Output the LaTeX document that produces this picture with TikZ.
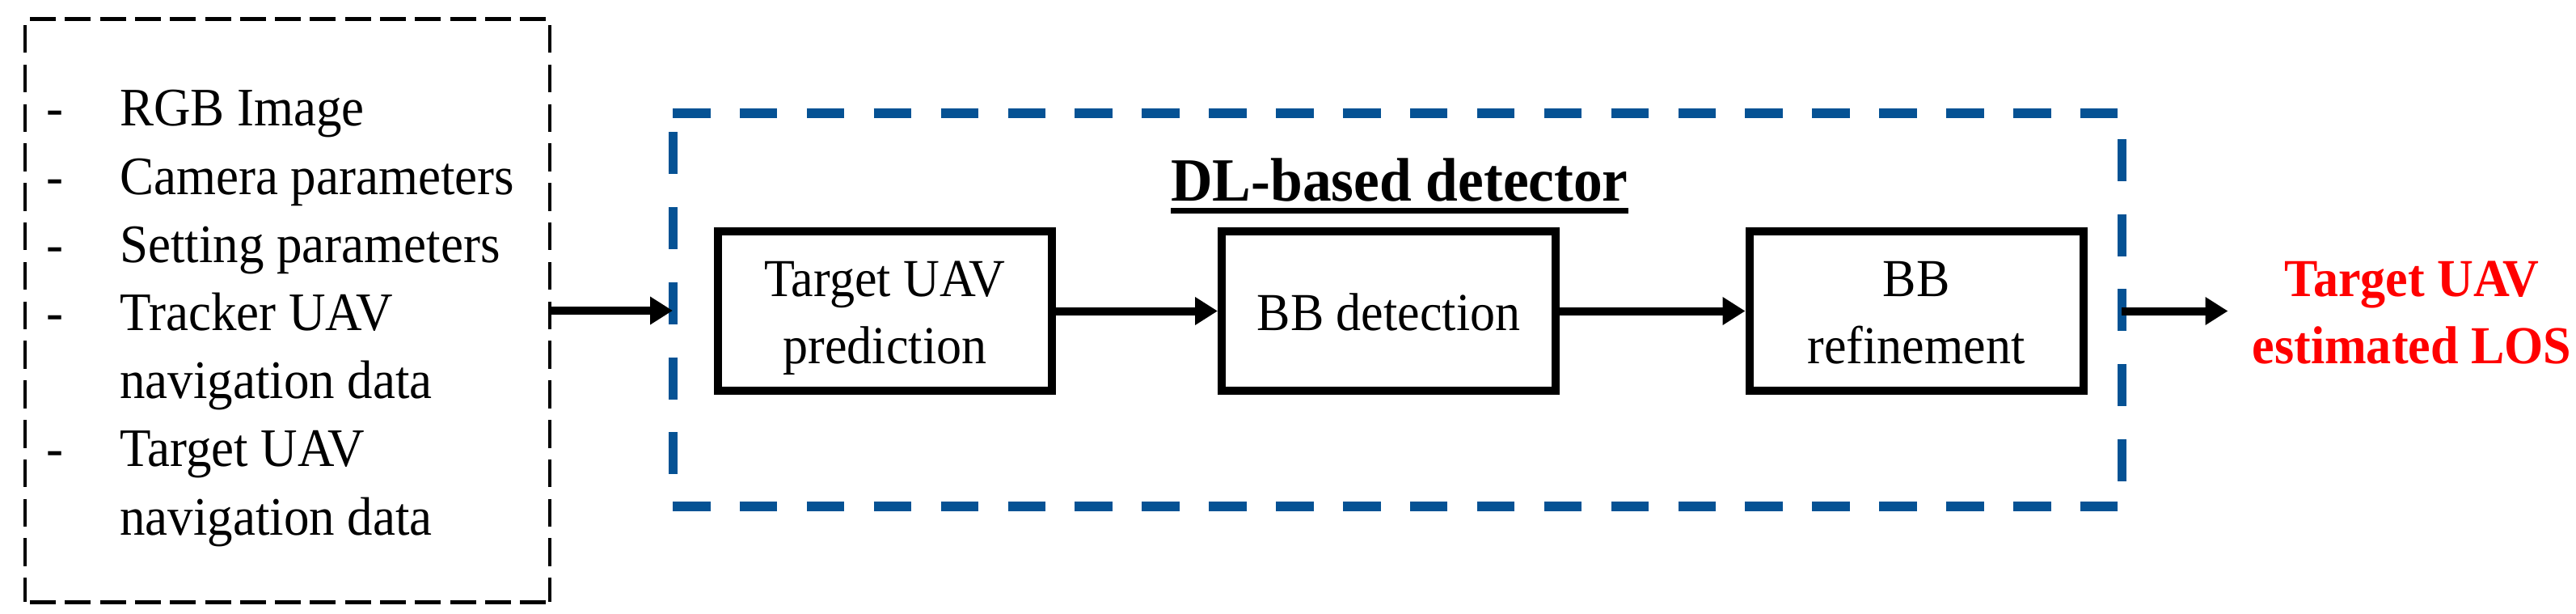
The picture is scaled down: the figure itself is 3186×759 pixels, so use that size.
\documentclass[tikz,border=0pt]{standalone}
\usepackage{fontspec}
\setmainfont[FakeStretch=0.94]{Liberation Serif}
\usetikzlibrary{arrows.meta}
\definecolor{dlblue}{RGB}{5,82,148}
\definecolor{losred}{RGB}{255,0,0}
\newcommand{\topst}{\rule{0pt}{62pt}}
\newcommand{\botst}{\rule[-14.5pt]{0pt}{14.5pt}}
\begin{document}
\begin{tikzpicture}[x=1pt,y=-1pt,
  txt/.style={inner sep=0pt, anchor=base west, font=\fontsize{67}{84}\selectfont},
  stage/.style={draw, line width=10pt, minimum width=413pt, minimum height=197pt,
    inner sep=0pt, align=center, font=\fontsize{66}{83}\selectfont},
  flow/.style={line width=10pt, -{Triangle[length=28pt,width=33pt]}},
  frame/.style={minimum width=#1, inner sep=0pt, outer sep=0pt},
  inh/.style={line width=5pt, dash pattern=on 32pt off 11.3pt},
  inv/.style={line width=3.5pt, dash pattern=on 34.5pt off 14.3pt},
  dlh/.style={dlblue, line width=12pt, dash pattern=on 46.5pt off 36.4pt},
  dlv/.style={dlblue, line width=11pt, dash pattern=on 52pt off 40.7pt}
]
\useasboundingbox (0,0) rectangle (3186,759);

% input box
\node[frame=649pt, minimum height=720pt] (inbox) at (355.5,384) {};
\draw[inh] ([xshift=6pt]inbox.north west) -- (inbox.north east);
\draw[inh] ([xshift=6pt]inbox.south west) -- (inbox.south east);
\draw[inv] ([yshift=-7pt]inbox.north west) -- (inbox.south west);
\draw[inv] ([yshift=-7pt]inbox.north east) -- (inbox.south east);

\node[txt] (h1) at (57,156) {-};
\node[txt] (h2) at (57,240.2) {-};
\node[txt] (h3) at (57,324.3) {-};
\node[txt] (h4) at (57,408.5) {-};
\node[txt] (h5) at (57,576.8) {-};
\node[txt] (l1) at (148,156) {RGB Image};
\node[txt] (l2) at (148,240.2) {Camera parameters};
\node[txt] (l3) at (148,324.3) {Setting parameters};
\node[txt] (l4) at (148,408.5) {Tracker UAV};
\node[txt] (l5) at (148,492.7) {navigation data};
\node[txt] (l6) at (148,576.8) {Target UAV};
\node[txt] (l7) at (148,661) {navigation data};

% DL-based detector box
\node[frame=1792pt, minimum height=486pt] (dlbox) at (1728,383) {};
\draw[dlh] (dlbox.north west) -- (dlbox.north east);
\draw[dlh] (dlbox.south west) -- (dlbox.south east);
\draw[dlv] ([yshift=-23.5pt]dlbox.north west) -- ([yshift=40pt]dlbox.south west);
\draw[dlv] ([yshift=-32pt]dlbox.north east) -- ([yshift=31pt]dlbox.south east);

\node[inner sep=0pt, anchor=base, font=\fontsize{76}{90}\selectfont\bfseries] (title) at (1731,248.5) {DL-based detector};
\draw[line width=7pt] ([yshift=-12pt]title.base west) -- ([yshift=-12pt]title.base east);

\node[stage] (b1) at (1094.5,384.5) {\topst Target UAV\\prediction\botst};
\node[stage] (b2) at (1717.5,384.5) {\topst BB detection\botst};
\node[stage] (b3) at (2370,384.5) {\topst BB\\refinement\botst};

\node[inner sep=0pt, align=center, text=losred, font=\fontsize{66}{83}\selectfont\bfseries] (out) at (2983,384.5) {\topst Target UAV\\estimated LOS\botst};

% connectors
\draw[flow] (inbox.east) -- (inbox.east -| dlbox.west);
\draw[flow] (b1) -- (b2);
\draw[flow] (b2) -- (b3);
\draw[flow, shorten >=30pt] (dlbox.east |- b3.east) -- (out.west |- b3.east);
\end{tikzpicture}
\end{document}
